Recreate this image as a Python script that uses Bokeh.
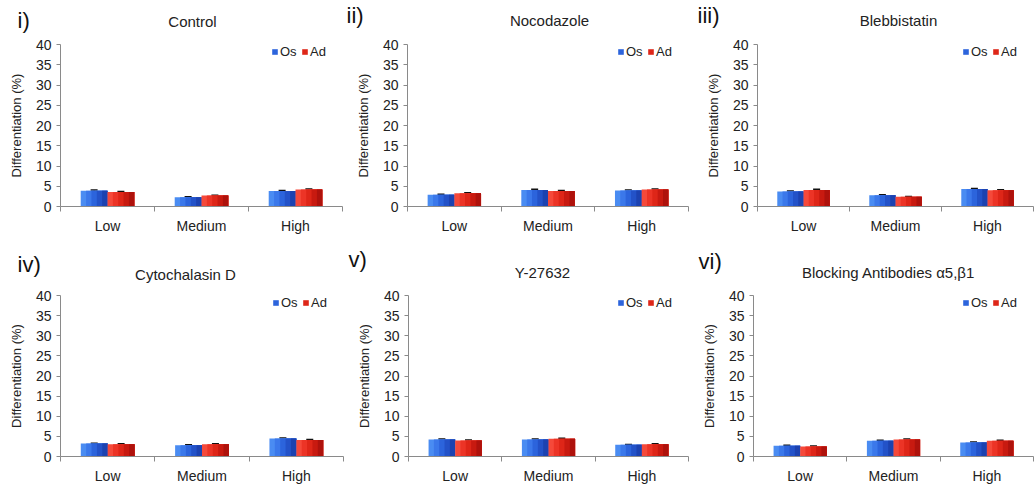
import numpy as np
from bokeh.plotting import figure
from bokeh.layouts import column, row
from bokeh.models import (ColumnDataSource, FixedTicker, Whisker, TeeHead, Legend,
                          LegendItem, Label, Range1d)
from bokeh.embed import file_html
from bokeh.resources import INLINE

categories = ["Low", "Medium", "High"]
series = ["Os", "Ad"]
panel_tags = ["i)", "ii)", "iii)", "iv)", "v)", "vi)"]
titles = ["Control", "Nocodazole", "Blebbistatin", "Cytochalasin D", "Y-27632",
          "Blocking Antibodies \u03b15,\u03b21"]

control_os = [3.9, 2.3, 3.8]
control_ad = [3.6, 2.7, 4.2]
nocodazole_os = [2.9, 4.1, 3.95]
nocodazole_ad = [3.3, 3.8, 4.2]
blebbistatin_os = [3.7, 2.8, 4.3]
blebbistatin_ad = [4.1, 2.4, 4.0]
cytochalasin_os = [3.2, 2.8, 4.5]
cytochalasin_ad = [3.05, 3.05, 4.1]
y27632_os = [4.2, 4.2, 2.9]
y27632_ad = [4.0, 4.4, 3.05]
blocking_os = [2.7, 3.9, 3.5]
blocking_ad = [2.5, 4.2, 3.9]

err_os = [[0.15, 0.12, 0.12], [0.12, 0.15, 0.12], [0.12, 0.12, 0.15],
          [0.12, 0.1, 0.12], [0.12, 0.12, 0.1], [0.1, 0.15, 0.12]]
err_ad = [[0.12, 0.1, 0.15], [0.12, 0.12, 0.12], [0.15, 0.1, 0.12],
          [0.12, 0.12, 0.12], [0.12, 0.15, 0.12], [0.12, 0.15, 0.15]]

values_os = [control_os, nocodazole_os, blebbistatin_os, cytochalasin_os, y27632_os, blocking_os]
values_ad = [control_ad, nocodazole_ad, blebbistatin_ad, cytochalasin_ad, y27632_ad, blocking_ad]

y_ticks = [0, 5, 10, 15, 20, 25, 30, 35, 40]

FONT = "Liberation Sans"
BLUE_GRAD = ["#4a8cf2", "#3b78ea", "#2c64dc", "#2352c8", "#1c42b0"]
RED_GRAD = ["#f5493a", "#ec3426", "#de2618", "#c81a10", "#ae120c"]

CELL_W = 345
HEADER_H = [36, 36, 36, 40, 40, 40]
# (left border, frame width, top border, bottom border) of the chart below the header
geom = [(60, 282, 8, 38), (62, 281, 8, 38), (67, 276, 8, 38),
        (60, 283, 11, 32), (63, 280, 11, 32), (63, 280, 11, 32)]
title_pos = [(192, 21), (204, 20), (208, 20), (185, 30), (197, 28), (198, 28)]
tag_pos = [(17, 20), (1, 15), (7, 15), (17, 20), (3, 15), (8, 17)]

BW = 0.285


def make_header(k):
    hh = HEADER_H[k]
    h = figure(width=CELL_W, height=hh, output_backend="svg", toolbar_location=None,
               x_range=Range1d(0, CELL_W), y_range=Range1d(hh, 0),
               x_axis_location=None, y_axis_location=None, title_location=None,
               min_border=0, min_border_left=0, min_border_right=0,
               min_border_top=0, min_border_bottom=0)
    h.outline_line_color = None
    h.grid.visible = False
    h.border_fill_color = "white"
    h.background_fill_color = "white"
    tx, ty = tag_pos[k]
    h.add_layout(Label(x=tx, y=ty, text=panel_tags[k], text_font=FONT,
                       text_font_size="22px", text_color="#111111",
                       text_align="left", text_baseline="middle"))
    cx, cy = title_pos[k]
    h.add_layout(Label(x=cx, y=cy, text=titles[k], text_font=FONT,
                       text_font_size="15px", text_color="#222222",
                       text_align="center", text_baseline="middle"))
    return h


def make_chart(k):
    lb, fw, tb, bb = geom[k]
    ph = 244 - HEADER_H[k]
    fh = ph - tb - bb
    p = figure(width=CELL_W, height=ph, output_backend="svg", toolbar_location=None,
               x_range=Range1d(0, 3), y_range=Range1d(0, 40), title_location=None,
               min_border_left=lb, min_border_right=CELL_W - lb - fw,
               min_border_top=tb, min_border_bottom=bb)
    p.outline_line_color = None
    p.grid.visible = False
    p.background_fill_color = "white"
    p.border_fill_color = "white"

    xc = np.arange(3) + 0.5
    renderers = []
    for vals, grad, errs, sgn in [(values_os[k], BLUE_GRAD, err_os[k], -1),
                                  (values_ad[k], RED_GRAD, err_ad[k], 1)]:
        centre = xc + sgn * BW / 2
        n = len(grad)
        sw = BW / n
        legend_r = None
        for j, col in enumerate(grad):
            left = centre - BW / 2 + sw * j
            right = centre + BW / 2
            r = p.vbar(x=(left + right) / 2, top=vals, width=right[0] - left[0], bottom=0,
                       fill_color=col, line_color=None)
            if j == 2:
                legend_r = r
        renderers.append(legend_r)
        src = ColumnDataSource(dict(x=centre, lo=vals, hi=np.array(vals) + np.array(errs)))
        p.add_layout(Whisker(source=src, base="x", lower="lo", upper="hi",
                             line_color="#111111", line_width=1,
                             upper_head=TeeHead(size=7, line_color="#111111", line_width=1.5),
                             lower_head=None))

    legend = Legend(items=[LegendItem(label=series[0], renderers=[renderers[0]]),
                           LegendItem(label=series[1], renderers=[renderers[1]])],
                    orientation="horizontal", location=(fw - 14 - 57, fh - 15),
                    glyph_width=7, glyph_height=7, label_text_font=FONT,
                    label_text_font_size="13px", label_text_color="#222222",
                    background_fill_alpha=0, border_line_color=None,
                    spacing=3, padding=0, margin=0, label_standoff=2,
                    label_height=14, label_width=18)
    p.add_layout(legend)

    p.yaxis.ticker = FixedTicker(ticks=y_ticks)
    p.yaxis.major_label_text_font = FONT
    p.yaxis.major_label_text_font_size = "14px"
    p.yaxis.major_label_text_color = "#222222"
    p.yaxis.axis_line_color = "#8a8a8a"
    p.yaxis.major_tick_line_color = "#8a8a8a"
    p.yaxis.major_tick_out = 4
    p.yaxis.major_tick_in = 0
    p.yaxis.minor_tick_line_color = None
    p.yaxis.axis_label = "Differentiation (%)"
    p.yaxis.axis_label_text_font = FONT
    p.yaxis.axis_label_text_font_size = "13px"
    p.yaxis.axis_label_text_font_style = "normal"
    p.yaxis.axis_label_text_color = "#222222"
    p.yaxis.axis_label_standoff = 9
    p.yaxis.major_label_standoff = 5

    p.xaxis.ticker = FixedTicker(ticks=list(xc), minor_ticks=[0, 1, 2, 3])
    p.xaxis.major_label_overrides = {float(x): c for x, c in zip(xc, categories)}
    p.xaxis.major_label_text_font = FONT
    p.xaxis.major_label_text_font_size = "14px"
    p.xaxis.major_label_text_color = "#222222"
    p.xaxis.major_tick_line_color = None
    p.xaxis.minor_tick_line_color = "#8a8a8a"
    p.xaxis.minor_tick_out = 5
    p.xaxis.minor_tick_in = 0
    p.xaxis.axis_line_color = "#8a8a8a"
    p.xaxis.major_label_standoff = 5
    return p


headers = [make_header(k) for k in range(6)]
charts = [make_chart(k) for k in range(6)]

page = column(row(*headers[:3], spacing=0), row(*charts[:3], spacing=0),
              row(*headers[3:], spacing=0), row(*charts[3:], spacing=0), spacing=0)
open("out.html", "w").write(file_html(page, INLINE))
